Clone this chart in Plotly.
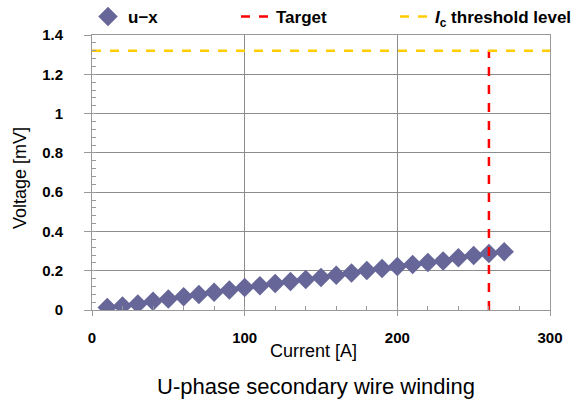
import plotly.graph_objects as go

current = [10, 20, 30, 40, 50, 60, 70, 80, 90, 100, 110, 120, 130, 140, 150,
           160, 170, 180, 190, 200, 210, 220, 230, 240, 250, 260, 270]
voltage = [0.013, 0.021, 0.031, 0.044, 0.056, 0.068, 0.079, 0.090, 0.102, 0.114,
           0.124, 0.135, 0.145, 0.155, 0.166, 0.177, 0.188, 0.201, 0.211, 0.222,
           0.232, 0.242, 0.250, 0.266, 0.278, 0.288, 0.297]
target_current = 260
threshold_voltage = 1.32
x_range = [0, 300]
y_range = [0, 1.4]

FONT = "Liberation Sans, Arial, sans-serif"
AXC = "#999999"

fig = go.Figure()
fig.add_trace(go.Scatter(
    x=current, y=voltage, mode="markers", name="<b>u\u2212x</b>", legend="legend",
    marker=dict(symbol="diamond", size=15, color="#666699", line=dict(width=0)),
))
fig.add_trace(go.Scatter(
    x=[target_current, target_current], y=[0, threshold_voltage], mode="lines",
    name="<b>Target</b>", legend="legend2",
    line=dict(color="#FF0000", width=2.5, dash="dash"),
))
fig.add_trace(go.Scatter(
    x=x_range, y=[threshold_voltage, threshold_voltage], mode="lines",
    name="<b><i>I</i><sub>c</sub> threshold level</b>", legend="legend3",
    line=dict(color="#FFCC00", width=2.5, dash="dash"),
))
# empty trace that carries the overlay axes used for the minor tick marks
fig.add_trace(go.Scatter(x=[], y=[], xaxis="x2", yaxis="y2", showlegend=False, hoverinfo="skip"))

axis_common = dict(
    showline=True, linecolor=AXC, linewidth=1, mirror=True,
    showgrid=True, gridcolor="#8c8c8c", gridwidth=1, zeroline=False,
    ticks="outside", tickcolor=AXC, tickwidth=1, automargin=False,
    tickfont=dict(family=FONT, size=15, color="black", weight="bold"),
)

fig.update_layout(
    xaxis=dict(range=x_range, tickmode="linear", tick0=0, dtick=100, ticklen=5,
               ticklabelstandoff=9, **axis_common),
    yaxis=dict(range=y_range, tickmode="linear", tick0=0, dtick=0.2, ticklen=7,
               ticklabelstandoff=18, **axis_common),
    xaxis2=dict(range=x_range, overlaying="x", anchor="y2", side="bottom",
                tickmode="linear", tick0=0, dtick=20, ticks="inside", ticklen=4,
                tickcolor=AXC, showticklabels=False, showgrid=False, showline=False,
                zeroline=False, automargin=False),
    yaxis2=dict(range=y_range, overlaying="y", anchor="x2", side="left",
                tickmode="linear", tick0=0, dtick=0.04, ticks="inside", ticklen=4,
                tickcolor=AXC, showticklabels=False, showgrid=False, showline=False,
                zeroline=False, automargin=False),
)

fig.add_annotation(text="Current [A]", xref="paper", yref="paper", x=(313 - 92) / 458, y=(310 - 351) / 275,
                   showarrow=False, xanchor="center", yanchor="middle",
                   font=dict(family=FONT, size=18, color="black"))
fig.add_annotation(text="Voltage [mV]", xref="paper", yref="paper", x=(20 - 92) / 458, y=(310 - 178) / 275,
                   showarrow=False, xanchor="center", yanchor="middle", textangle=-90,
                   font=dict(family=FONT, size=18, color="black"))
fig.add_annotation(text="U-phase secondary wire winding", xref="paper", yref="paper",
                   x=(316 - 92) / 458, y=(310 - 386) / 275,
                   showarrow=False, xanchor="center", yanchor="middle",
                   font=dict(family=FONT, size=22, color="black"))

legend_common = dict(orientation="h", xref="container", yref="paper",
                     y=1 + (35 - 17) / 275, xanchor="left", yanchor="middle",
                     font=dict(family=FONT, size=17, color="black"),
                     bgcolor="rgba(0,0,0,0)")

fig.update_layout(
    width=573, height=401,
    margin=dict(l=92, r=23, t=35, b=91, autoexpand=False),
    paper_bgcolor="white", plot_bgcolor="white",
    showlegend=True,
    legend=dict(x=88 / 573, **legend_common),
    legend2=dict(x=236 / 573, **legend_common),
    legend3=dict(x=395 / 573, **legend_common),
)

fig.write_html("out.html", config={"displayModeBar": False},
               post_script="document.body.style.margin='0';document.body.style.padding='0';")
